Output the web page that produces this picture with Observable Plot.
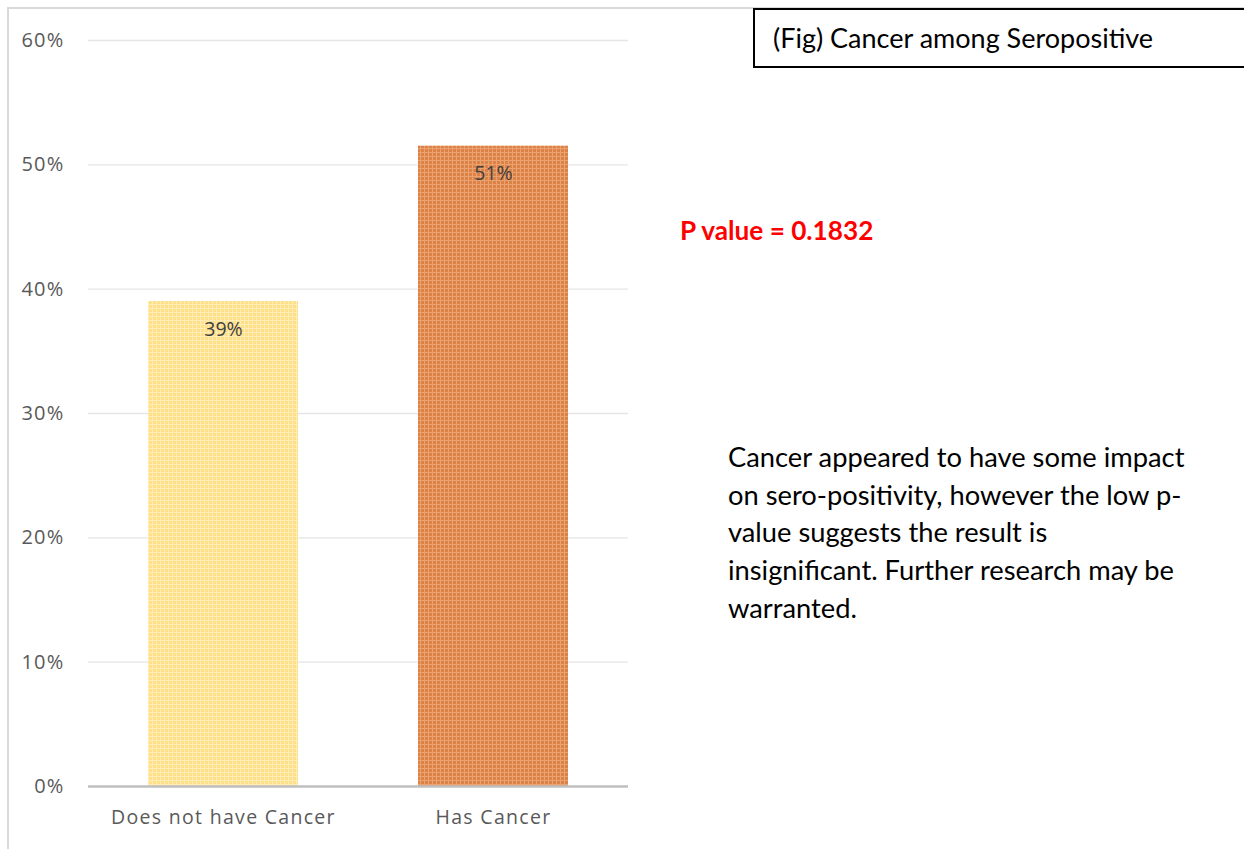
<!DOCTYPE html>
<html>
<head>
<meta charset="utf-8">
<script src="https://cdn.jsdelivr.net/npm/d3@7"></script>
<script src="https://cdn.jsdelivr.net/npm/@observablehq/plot@0.6"></script>
<style>
  html, body { margin: 0; padding: 0; background: #fff; }
  body { width: 1244px; height: 849px; position: relative; overflow: hidden; }
  #frame { position: absolute; left: 7px; top: 7px; width: 1260px; height: 870px;
           border-left: 2px solid #d9d9d9; border-top: 2px solid #d9d9d9; }
  #chart { position: absolute; left: 0; top: 0; }
  #title { position: absolute; left: 753px; top: 8px; width: 520px; height: 56px;
           border: 2px solid #000; background: #fff; font-family: Lato, sans-serif;
           font-size: 27px; line-height: 56px; padding-left: 18px; color: #000; box-sizing: content-box; }
  #pval { position: absolute; left: 680px; top: 214px; font-family: Lato, sans-serif;
          font-weight: bold; font-size: 26.2px; color: #ff0000; }
  #note { position: absolute; left: 728px; top: 438px; width: 520px; font-family: Lato, sans-serif;
          font-size: 27.3px; line-height: 37.7px; color: #000; }
</style>
</head>
<body>
<div id="frame"></div>
<div id="chart"></div>
<div id="title">(Fig) Cancer among Seropositive</div>
<div id="pval">P value = 0.1832</div>
<div id="note">Cancer appeared to have some impact<br>on sero-positivity, however the low p-<br>value suggests the result is<br>insignificant. Further research may be<br>warranted.</div>
<script>
const categories = ["Does not have Cancer", "Has Cancer"];
const values = [0.39, 0.515];
const labels = ["39%", "51%"];
const yTicks = [0, 0.1, 0.2, 0.3, 0.4, 0.5, 0.6];
const fills = ["url(#patYellow)", "url(#patOrange)"];

const data = categories.map((c, i) => ({category: c, value: values[i], label: labels[i], fill: fills[i]}));

const chart = Plot.plot({
  width: 1244,
  height: 849,
  marginLeft: 88,
  marginRight: 616,
  marginTop: 40,
  marginBottom: 63,
  style: {background: "transparent", fontFamily: "'Open Sans', sans-serif"},
  x: {domain: categories, paddingInner: 0.444, paddingOuter: 0.222, label: null, tickSize: 0},
  y: {domain: [0, 0.6], ticks: yTicks, tickFormat: d3.format(".0%"), label: null, tickSize: 0},
  marks: [
    Plot.ruleY(yTicks.filter(d => d > 0), {stroke: "#e6e6e6", strokeWidth: 1.3}),
    Plot.barY(data, {x: "category", y: "value", fill: "fill"}),
    Plot.ruleY([0], {stroke: "#bfbfbf", strokeWidth: 2.5}),
    Plot.text(data, {x: "category", y: "value", text: "label", dy: 28, fill: "#404040", fontSize: 19.5, fontFamily: "'Open Sans', sans-serif"}),
    Plot.axisY({ticks: yTicks, tickFormat: d3.format(".0%"), tickSize: 0, tickPadding: 24, fontSize: 20, fill: "#595959", label: null}),
    Plot.axisX({tickSize: 0, tickPadding: 24, fontSize: 19.5, fill: "#595959", label: null})
  ]
});

// patterns for bars
const defs = `
<defs>
  <pattern id="patYellow" width="4" height="4" patternUnits="userSpaceOnUse">
    <rect width="4" height="4" fill="#ffe088"/>
    <rect x="0" y="0" width="4" height="1" fill="#ffedb5"/>
    <rect x="0" y="0" width="1" height="4" fill="#ffedb5"/>
  </pattern>
  <pattern id="patOrange" width="4" height="4" patternUnits="userSpaceOnUse">
    <rect width="4" height="4" fill="#dc8247"/>
    <rect x="0" y="0" width="4" height="1" fill="#eba271"/>
    <rect x="0" y="0" width="1" height="4" fill="#eba271"/>
  </pattern>
</defs>`;
chart.insertAdjacentHTML("afterbegin", defs);
chart.querySelectorAll("g[aria-label='x-axis tick label']").forEach(g => {
  g.setAttribute("letter-spacing", "1.3");
  g.setAttribute("font-size", "19.5");
});
chart.querySelectorAll("g[aria-label='y-axis tick label']").forEach(g => {
  g.setAttribute("font-size", "20");
  g.setAttribute("letter-spacing", "1.2");
});
document.getElementById("chart").appendChild(chart);
</script>
</body>
</html>
